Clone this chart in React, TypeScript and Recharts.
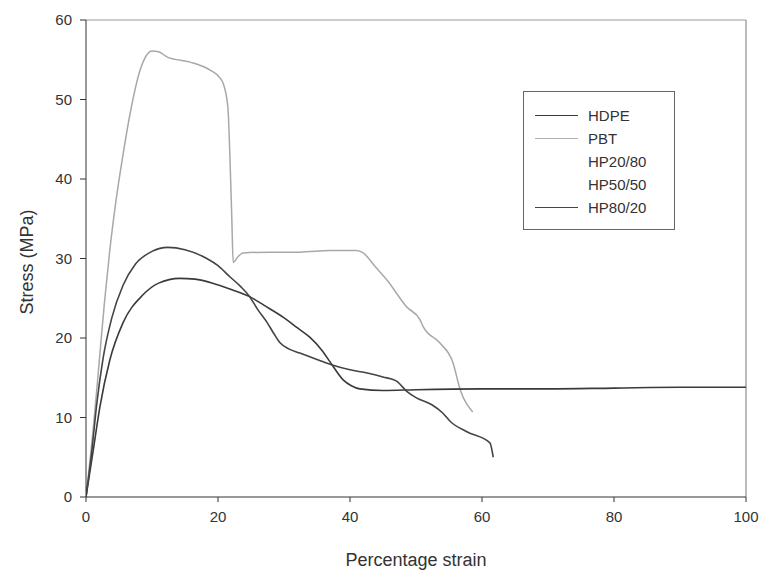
import { LineChart, Line, XAxis, YAxis, ReferenceLine, Label } from "recharts";

type Pt = { x: number; y: number };

// stress-strain curves
const hdpe: Pt[] = [
  { x: 0, y: 0 }, { x: 1.1, y: 5.9 }, { x: 2.1, y: 11.3 }, { x: 3.6, y: 17.2 }, { x: 5.6, y: 21.9 },
  { x: 8.6, y: 25.4 }, { x: 11, y: 26.9 }, { x: 14.2, y: 27.5 }, { x: 16.5, y: 27.4 }, { x: 19.2, y: 26.9 },
  { x: 22, y: 26.1 }, { x: 24.8, y: 25.2 }, { x: 27, y: 24.1 }, { x: 29.9, y: 22.6 }, { x: 32, y: 21.3 },
  { x: 33.9, y: 20.1 }, { x: 35.7, y: 18.5 }, { x: 37.3, y: 16.6 }, { x: 39, y: 14.7 }, { x: 40.2, y: 14 },
  { x: 41.5, y: 13.6 }, { x: 45, y: 13.4 }, { x: 50, y: 13.5 }, { x: 60, y: 13.6 }, { x: 70, y: 13.6 },
  { x: 80, y: 13.7 }, { x: 90, y: 13.8 }, { x: 100, y: 13.8 },
];

const pbt: Pt[] = [
  { x: 0, y: 0 }, { x: 1.2, y: 9.5 }, { x: 2, y: 17 }, { x: 2.8, y: 24.5 }, { x: 3.6, y: 31 },
  { x: 4.5, y: 37 }, { x: 5.5, y: 42.5 }, { x: 6.7, y: 48.3 }, { x: 8.2, y: 53.7 }, { x: 9.2, y: 55.6 },
  { x: 10, y: 56.1 }, { x: 11, y: 56 }, { x: 12.4, y: 55.3 }, { x: 15.8, y: 54.7 }, { x: 18.8, y: 53.7 },
  { x: 20.2, y: 52.8 }, { x: 20.8, y: 52 }, { x: 21.5, y: 49 }, { x: 21.8, y: 43 }, { x: 22.1, y: 34.8 },
  { x: 22.3, y: 29.5 }, { x: 23, y: 30.2 }, { x: 23.8, y: 30.7 }, { x: 28, y: 30.8 }, { x: 32.4, y: 30.8 },
  { x: 37, y: 31 }, { x: 41, y: 31 }, { x: 42, y: 30.7 }, { x: 43.8, y: 29 }, { x: 45.6, y: 27.3 },
  { x: 48.6, y: 23.9 }, { x: 50.6, y: 22.3 }, { x: 51.1, y: 21.4 }, { x: 53.6, y: 19.4 }, { x: 55.6, y: 16.9 },
  { x: 56.7, y: 13.5 }, { x: 58.6, y: 10.7 },
];

const hp8020: Pt[] = [
  { x: 0, y: 0 }, { x: 0.9, y: 5.9 }, { x: 1.6, y: 11.5 }, { x: 2.6, y: 17.5 }, { x: 3.9, y: 22.5 },
  { x: 5.6, y: 26.6 }, { x: 7.5, y: 29.3 }, { x: 10, y: 30.9 }, { x: 12.4, y: 31.4 }, { x: 15, y: 31.1 },
  { x: 18.3, y: 30 }, { x: 20, y: 29.1 }, { x: 21.8, y: 27.7 }, { x: 23.4, y: 26.5 }, { x: 24.8, y: 25.2 },
  { x: 26, y: 23.6 }, { x: 27.4, y: 22 }, { x: 28.5, y: 20.5 }, { x: 29.4, y: 19.4 }, { x: 30.8, y: 18.6 },
  { x: 32.4, y: 18.1 }, { x: 35, y: 17.3 }, { x: 37.3, y: 16.6 }, { x: 40, y: 16 }, { x: 42.6, y: 15.6 },
  { x: 45, y: 15.1 }, { x: 47, y: 14.6 }, { x: 48.6, y: 13.3 }, { x: 50, y: 12.5 }, { x: 52.4, y: 11.6 },
  { x: 54, y: 10.6 }, { x: 55.2, y: 9.5 }, { x: 57.7, y: 8.2 }, { x: 61.2, y: 6.8 }, { x: 61.7, y: 5 },
];

const xTicks = [0, 20, 40, 60, 80, 100];
const yTicks = [0, 10, 20, 30, 40, 50, 60];

// legend rows; the two middle blends show no line in the scan
const legendItems = [
  { name: "HDPE", color: "#3a3a3a" },
  { name: "PBT", color: "#b0b0b0" },
  { name: "HP20/80", color: "transparent" },
  { name: "HP50/50", color: "transparent" },
  { name: "HP80/20", color: "#444" },
];

const font = "'Liberation Sans', Arial, sans-serif";
const tickStyle = { fill: "#333", fontSize: 15, fontFamily: font };

const LegendBox = () => (
  <div
    style={{
      position: "absolute",
      left: 523,
      top: 91,
      border: "1px solid #666",
      width: 152,
      height: 139,
      boxSizing: "border-box",
      paddingTop: 12,
      fontFamily: font,
      fontSize: 15,
      color: "#333",
      background: "#fff",
    }}
  >
    {legendItems.map((it) => (
      <div key={it.name} style={{ display: "flex", alignItems: "center", height: 23 }}>
        <div style={{ width: 43, marginLeft: 11, borderTop: `1.5px solid ${it.color}` }} />
        <span style={{ marginLeft: 10 }}>{it.name}</span>
      </div>
    ))}
  </div>
);

export default function App() {
  return (
    <div style={{ position: "absolute", left: 0, top: 0, width: 760, height: 579, background: "#fff" }}>
      <LineChart width={760} height={579} margin={{ top: 20, right: 14, bottom: 42, left: 0 }}>
        <XAxis
          dataKey="x"
          type="number"
          domain={[0, 100]}
          ticks={xTicks}
          allowDataOverflow
          stroke="#333"
          tickSize={5}
          tickMargin={9}
          tick={tickStyle}
          height={40}
        >
          <Label
            content={() => (
              <text x={416} y={566} textAnchor="middle" fontSize={18} fontFamily={font} fill="#333">
                Percentage strain
              </text>
            )}
          />
        </XAxis>
        <YAxis
          type="number"
          domain={[0, 60]}
          ticks={yTicks}
          stroke="#333"
          tickSize={6}
          tickMargin={8}
          tick={tickStyle}
          width={86}
        >
          <Label
            content={() => (
              <text
                x={33}
                y={262}
                transform="rotate(-90 33 262)"
                textAnchor="middle"
                fontSize={18}
                fontFamily={font}
                fill="#333"
              >
                Stress (MPa)
              </text>
            )}
          />
        </YAxis>
        <ReferenceLine y={60} stroke="#999" />
        <ReferenceLine x={100} stroke="#777" />
        <Line data={pbt} dataKey="y" type="monotone" stroke="#a8a8a8" strokeWidth={1.5} dot={false} isAnimationActive={false} />
        <Line data={hdpe} dataKey="y" type="monotone" stroke="#3a3a3a" strokeWidth={1.6} dot={false} isAnimationActive={false} />
        <Line data={hp8020} dataKey="y" type="monotone" stroke="#444" strokeWidth={1.6} dot={false} isAnimationActive={false} />
      </LineChart>
      <LegendBox />
    </div>
  );
}
